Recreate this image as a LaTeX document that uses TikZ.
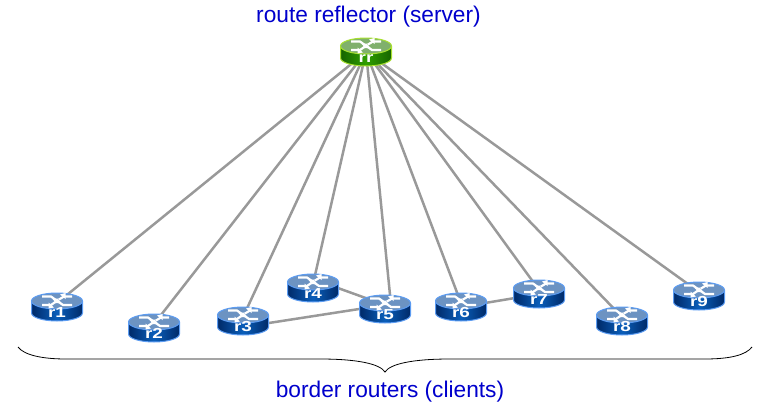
\documentclass[tikz,border=0pt]{standalone}
\usepackage{fontspec}
\setmainfont{Liberation Sans}
\usetikzlibrary{backgrounds}
\definecolor{linkgray}{HTML}{999999}
\definecolor{labelblue}{HTML}{0000CC}
\definecolor{bdark}{HTML}{002A68}
\definecolor{bmid}{HTML}{0A5EBA}
\definecolor{btop}{HTML}{6C93C2}
\definecolor{brim}{HTML}{5C9CF2}
\definecolor{gdark}{HTML}{176400}
\definecolor{gmid}{HTML}{2F9E00}
\definecolor{gtop}{HTML}{80B06C}
\definecolor{grim}{HTML}{A8E030}
\tikzset{
  x=1pt,y=-1pt,
  link/.style={draw=linkgray,line width=2.5pt},
  caption/.style={text=labelblue,font=\fontsize{22.7}{26}\selectfont,inner sep=0pt},
  routertext/.style={text=white,font=\fontsize{14.5}{15}\selectfont\bfseries,inner sep=0pt,minimum width=52pt,minimum height=28pt},
  glyph/.style={draw=white,line width=2.2pt,line join=miter},
}
% name, x, y, label, dark, mid, top, rim
\newcommand{\routericon}[8]{%
  \begin{scope}[shift={(#2,#3)}]
    \shade[left color=#5,right color=#5,middle color=#6]
      (-25.5,-6) -- (-25.5,6) arc[start angle=180,end angle=360,x radius=25.5pt,y radius=8pt] -- (25.5,-6) -- cycle;
    \draw[#8,line width=1pt]
      (-25.5,-6) -- (-25.5,6) arc[start angle=180,end angle=360,x radius=25.5pt,y radius=8pt] -- (25.5,-6);
    \draw[#8,line width=1pt,fill=#7] (0,-6) ellipse[x radius=25.5pt,y radius=8pt];
    \draw[glyph] (-15,-10.5) -- (-6,-10.5) -- (-1,-7);
    \fill[white] (-1,-4.5) -- (-4.5,-8) -- (2,-8.5) -- cycle;
    \draw[glyph] (15,-10.5) -- (7,-10.5) -- (2,-7.5);
    \fill[white] (3,-12.5) -- (8.5,-14) -- (8.5,-8) -- cycle;
    \draw[glyph] (-15,-2) -- (-6,-2) -- (-1,-5.5);
    \fill[white] (-3,0.5) -- (-8.5,1.5) -- (-8.5,-4.5) -- cycle;
    \draw[glyph] (15,-2) -- (6,-2) -- (1,-5.5);
    \fill[white] (1,-8) -- (4.5,-4) -- (-2,-4) -- cycle;
    \node[routertext] (#1) at (0,0) {\raisebox{-10pt}[0pt][0pt]{\scalebox{1.3}[1]{#4}}};
    \coordinate (#1c) at (0,-4);
  \end{scope}}
\newcommand{\bluerouter}[4]{\routericon{#1}{#2}{#3}{#4}{bdark}{bmid}{btop}{brim}}
\begin{document}
\begin{tikzpicture}
\useasboundingbox (0,0) rectangle (763,418);
\routericon{rr}{366}{52}{rr}{gdark}{gmid}{gtop}{grim}
\bluerouter{r1}{57}{307}{r1}
\bluerouter{r2}{154}{328}{r2}
\bluerouter{r3}{243}{321}{r3}
\bluerouter{r4}{313}{288}{r4}
\bluerouter{r5}{385}{309}{r5}
\bluerouter{r6}{461}{307}{r6}
\bluerouter{r7}{539}{294}{r7}
\bluerouter{r8}{622}{321}{r8}
\bluerouter{r9}{699}{296}{r9}
\begin{scope}[on background layer]
  \foreach \t in {r1,r2,r3,r4,r6,r7,r8,r9}
    \draw[link] (rr.center) -- (\t c);
  \draw[link] (rr.center) -- ([xshift=6pt]r5c);
  \draw[link] ([yshift=5pt]r4c) -- (r5c);
  \draw[link] ([yshift=-10pt]r3c) -- (r5c);
  \draw[link] (r6.center) -- (r7.center);
\end{scope}
\node[caption] (top) at (368.5,17) {route reflector (server)};
\node[caption] (bottom) at (390,392) {border routers (clients)};
\draw[black,line width=0.8pt] (18,347) .. controls (24,355) and (42,359) .. (66,359)
  -- (320,359) .. controls (358,359) and (380,364) .. (385,372)
  .. controls (390,364) and (412,359) .. (450,359)
  -- (705,359) .. controls (730,359) and (746,355) .. (752,347);
\end{tikzpicture}
\end{document}
